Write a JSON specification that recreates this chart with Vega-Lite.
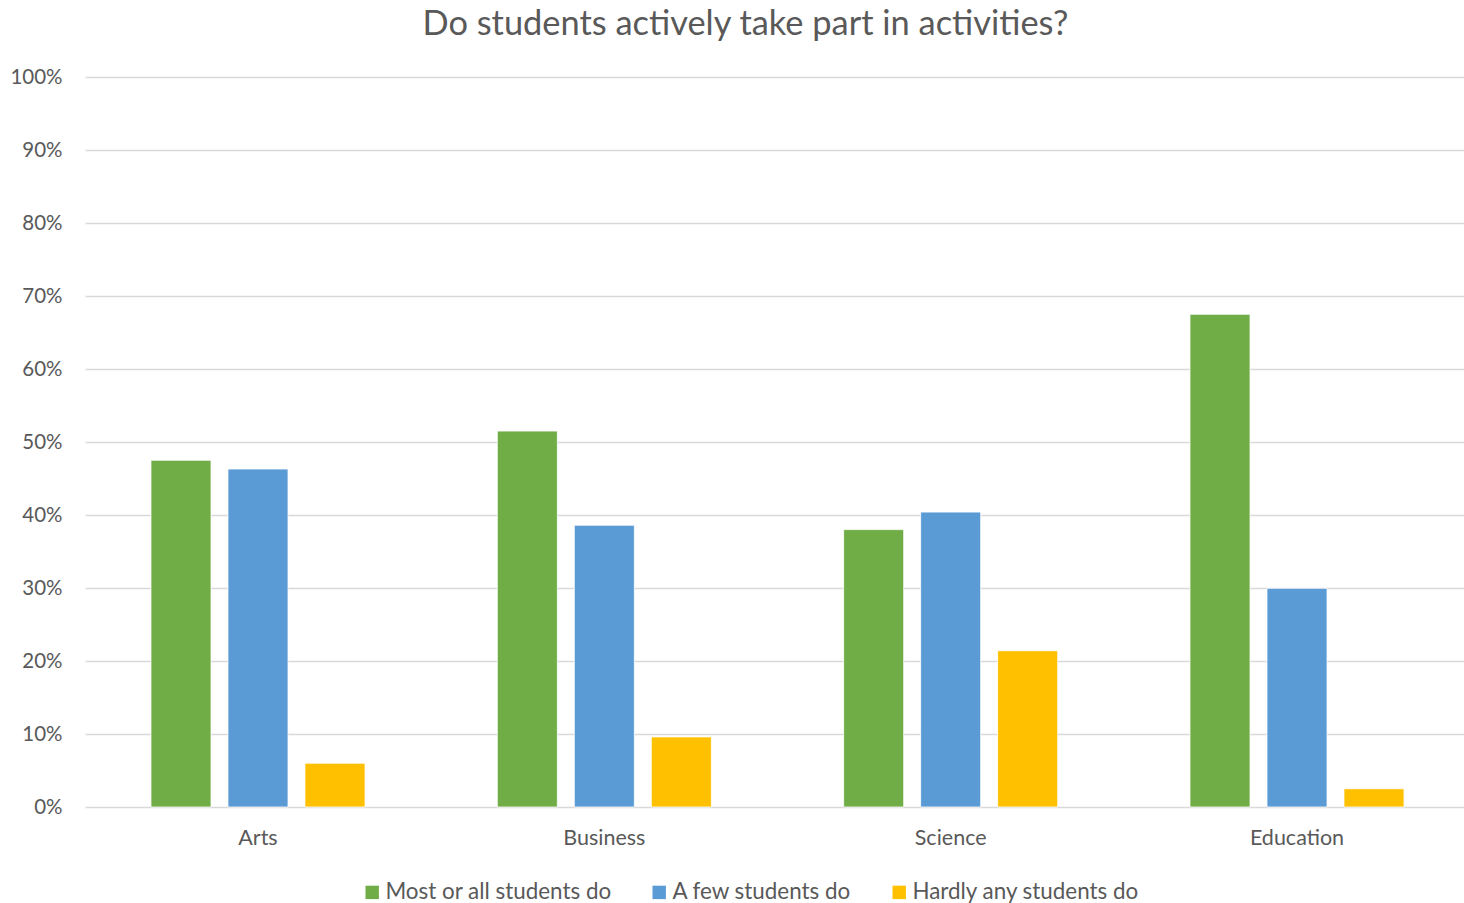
{
  "$schema": "https://vega.github.io/schema/vega-lite/v6.json",
  "autosize": "none",
  "padding": {"left": 85, "top": 77, "right": 0, "bottom": 96},
  "width": 1379,
  "height": 730,
  "background": "white",
  "title": {
    "text": "Do students actively take part in activities?",
    "font": "Lato",
    "fontSize": 34.4,
    "fontWeight": "normal",
    "color": "#595959",
    "anchor": "middle",
    "dx": -29,
    "offset": 25
  },
  "data": {
    "values": [
      {"field": "Arts", "response": "Most or all students do", "order": 1, "share": 0.475},
      {"field": "Arts", "response": "A few students do", "order": 2, "share": 0.463},
      {"field": "Arts", "response": "Hardly any students do", "order": 3, "share": 0.06},
      {"field": "Business", "response": "Most or all students do", "order": 1, "share": 0.515},
      {"field": "Business", "response": "A few students do", "order": 2, "share": 0.386},
      {"field": "Business", "response": "Hardly any students do", "order": 3, "share": 0.096},
      {"field": "Science", "response": "Most or all students do", "order": 1, "share": 0.38},
      {"field": "Science", "response": "A few students do", "order": 2, "share": 0.404},
      {"field": "Science", "response": "Hardly any students do", "order": 3, "share": 0.214},
      {"field": "Education", "response": "Most or all students do", "order": 1, "share": 0.675},
      {"field": "Education", "response": "A few students do", "order": 2, "share": 0.2996},
      {"field": "Education", "response": "Hardly any students do", "order": 3, "share": 0.025}
    ]
  },
  "mark": {"type": "bar", "stroke": "white", "strokeWidth": 0.8},
  "encoding": {
    "x": {
      "field": "field",
      "type": "nominal",
      "sort": ["Arts", "Business", "Science", "Education"],
      "scale": {"paddingInner": 0.333, "paddingOuter": 0.166, "range": [0, 1385]},
      "axis": {
        "title": null,
        "domain": false,
        "ticks": false,
        "labelAngle": 0,
        "labelFont": "Lato",
        "labelFontSize": 21.5,
        "labelColor": "#595959",
        "labelPadding": 20
      }
    },
    "xOffset": {
      "field": "response",
      "type": "nominal",
      "sort": ["Most or all students do", "A few students do", "Hardly any students do"],
      "scale": {"paddingInner": 0.22, "paddingOuter": 0.11}
    },
    "y": {
      "field": "share",
      "type": "quantitative",
      "scale": {"domain": [0, 1], "nice": false},
      "axis": {
        "title": null,
        "format": ".0%",
        "values": [0, 0.1, 0.2, 0.3, 0.4, 0.5, 0.6, 0.7, 0.8, 0.9, 1],
        "domain": false,
        "ticks": false,
        "labelFont": "Lato",
        "labelFontSize": 20.5,
        "labelColor": "#595959",
        "labelPadding": 23,
        "gridColor": "#d9d9d9",
        "gridWidth": 1.5
      }
    },
    "color": {
      "field": "response",
      "type": "nominal",
      "sort": ["Most or all students do", "A few students do", "Hardly any students do"],
      "scale": {
        "domain": ["Most or all students do", "A few students do", "Hardly any students do"],
        "range": ["#70AD47", "#5B9BD5", "#FFC000"]
      },
      "legend": {
        "title": null,
        "orient": "none",
        "direction": "horizontal",
        "legendX": 276,
        "legendY": 804,
        "symbolType": "square",
        "symbolSize": 180,
        "symbolStrokeWidth": 0,
        "symbolOpacity": 1,
        "labelFont": "Lato",
        "labelFontSize": 22.4,
        "labelLimit": 500,
        "labelColor": "#595959",
        "labelOffset": 2,
        "columnPadding": 36
      }
    }
  },
  "config": {
    "view": {"stroke": null}
  }
}
